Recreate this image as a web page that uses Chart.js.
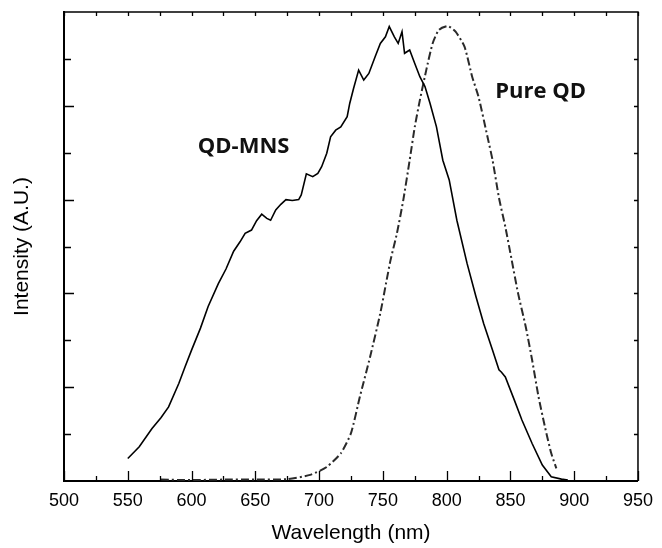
<!DOCTYPE html>
<html>
<head>
<meta charset="utf-8">
<script src="https://cdn.jsdelivr.net/npm/chart.js@4.4.1/dist/chart.umd.min.js"></script>
<style>
  html, body { margin:0; padding:0; background:#fff; }
  canvas { display:block; }
</style>
</head>
<body>
<canvas id="spectra" width="662" height="548"></canvas>
<script>
// ----- dados
const xTicks = [500, 550, 600, 650, 700, 750, 800, 850, 900, 950];

const mnsWl  = [550, 559, 569, 576, 582, 590, 595, 600, 607, 613, 621, 627, 633, 638, 642, 647, 651, 655, 659, 662,
                666, 670, 674, 679, 684, 686, 690, 695, 699, 702, 706, 709, 713, 717, 722, 724, 727, 731, 735, 739,
                744, 748, 752, 755, 759, 762, 765, 767, 771, 775, 779, 783, 787, 792, 797, 802, 808, 816, 823, 829,
                836, 841, 843, 846, 853, 859, 867, 875, 882, 890, 895];
const mnsInt = [0.048, 0.073, 0.112, 0.135, 0.158, 0.208, 0.244, 0.279, 0.326, 0.372, 0.421, 0.452, 0.490, 0.510, 0.528, 0.535, 0.555, 0.569, 0.560, 0.556,
                0.578, 0.590, 0.600, 0.598, 0.600, 0.610, 0.655, 0.649, 0.656, 0.670, 0.699, 0.734, 0.748, 0.755, 0.777, 0.805, 0.837, 0.876, 0.855, 0.869,
                0.905, 0.933, 0.947, 0.969, 0.947, 0.933, 0.958, 0.912, 0.919, 0.890, 0.862, 0.841, 0.805, 0.755, 0.684, 0.642, 0.556, 0.464, 0.393, 0.336,
                0.279, 0.237, 0.232, 0.222, 0.173, 0.130, 0.080, 0.034, 0.009, 0.004, 0.002];

const pureWl  = [576, 600, 625, 650, 675, 693, 706, 717, 725, 732, 740, 748, 753, 756, 761, 766, 771, 775, 779, 784,
                 789, 794, 801, 807, 814, 820, 825, 832, 836, 841, 846, 851, 856, 862, 867, 872, 877, 882, 886];
const pureInt = [0.003, 0.002, 0.003, 0.003, 0.004, 0.013, 0.030, 0.059, 0.102, 0.180, 0.265, 0.358, 0.429, 0.471, 0.528, 0.599, 0.684, 0.755, 0.812, 0.876,
                 0.933, 0.962, 0.970, 0.958, 0.926, 0.862, 0.819, 0.734, 0.684, 0.604, 0.542, 0.471, 0.400, 0.329, 0.258, 0.180, 0.116, 0.059, 0.027];

// rótulos no gráfico (coordenadas de dados)
const notes = [
  { text:'QD-MNS',  x:640.8, y:0.699 },
  { text:'Pure QD', x:873.6, y:0.817 }
];

const toXY = (xs, ys) => xs.map((x, i) => ({ x, y: ys[i] }));
const sans = '"Liberation Sans", Arial, sans-serif';

// ----- moldura com ticks para dentro (4 lados) + rótulos
const frameTicks = {
  id: 'frameTicks',
  afterDatasetsDraw(chart) {
    const { ctx, chartArea: a, scales: { x, y } } = chart;
    ctx.save();
    ctx.strokeStyle = '#000';
    ctx.lineWidth = 1.5;
    ctx.beginPath();
    ctx.moveTo(a.left, a.top); ctx.lineTo(a.right, a.top); ctx.lineTo(a.right, a.bottom);
    ctx.stroke();

    ctx.lineWidth = 1.3;
    ctx.beginPath();
    for (let v = 500; v <= 950; v += 25) {
      const px = Math.round(x.getPixelForValue(v)) + 0.5;
      const major = v % 50 === 0;
      ctx.moveTo(px, a.bottom); ctx.lineTo(px, a.bottom - (major ? 10 : 5));
      ctx.moveTo(px, a.top);    ctx.lineTo(px, a.top + 4);
    }
    for (let i = 1; i < 10; i++) {
      const v = i / 10;
      const py = Math.round(y.getPixelForValue(v)) + 0.5;
      const major = i % 2 === 0;
      ctx.moveTo(a.left, py);  ctx.lineTo(a.left + (major ? 10 : 7), py);
      ctx.moveTo(a.right, py); ctx.lineTo(a.right - 4, py);
    }
    ctx.stroke();

    ctx.fillStyle = '#111';
    ctx.font = 'bold 22px "Open Sans", sans-serif';
    ctx.textAlign = 'center';
    ctx.textBaseline = 'alphabetic';
    notes.forEach(n => ctx.fillText(n.text, x.getPixelForValue(n.x), y.getPixelForValue(n.y)));
    ctx.restore();
  }
};

new Chart(document.getElementById('spectra'), {
  type: 'line',
  data: {
    datasets: [
      { label:'QD-MNS', data: toXY(mnsWl, mnsInt),
        borderColor:'#000', borderWidth:1.6, pointRadius:0, tension:0, fill:false },
      { label:'Pure QD', data: toXY(pureWl, pureInt),
        borderColor:'#2a2a2a', borderWidth:2, borderDash:[8, 3, 2, 3], pointRadius:0, tension:0.2, fill:false }
    ]
  },
  options: {
    responsive:false, animation:false,
    layout:{ padding:{ top:12, right:18, left:0, bottom:0 } },
    plugins:{ legend:{ display:false }, tooltip:{ enabled:false } },
    scales:{
      x:{ type:'linear', min:500, max:950,
          afterBuildTicks: s => { s.ticks = xTicks.map(v => ({ value:v })); },
          afterFit: s => { s.height = 67; },
          grid:{ display:false, drawTicks:false },
          border:{ display:true, color:'#000', width:2 },
          ticks:{ color:'#000', padding:9, font:{ family:sans, size:18 }, maxRotation:0 },
          title:{ display:true, text:'Wavelength (nm)', color:'#000', padding:{ top:0, bottom:2 },
                  font:{ family:sans, size:21 } } },
      y:{ min:0, max:1,
          afterFit: s => { s.width = 64; },
          grid:{ display:false, drawTicks:false },
          border:{ display:true, color:'#000', width:2 },
          ticks:{ display:false, stepSize:0.1 },
          title:{ display:true, text:'Intensity (A.U.)', color:'#000', padding:{ top:10, bottom:0 },
                  font:{ family:sans, size:21 } } }
    }
  },
  plugins:[frameTicks]
});
</script>
</body>
</html>
